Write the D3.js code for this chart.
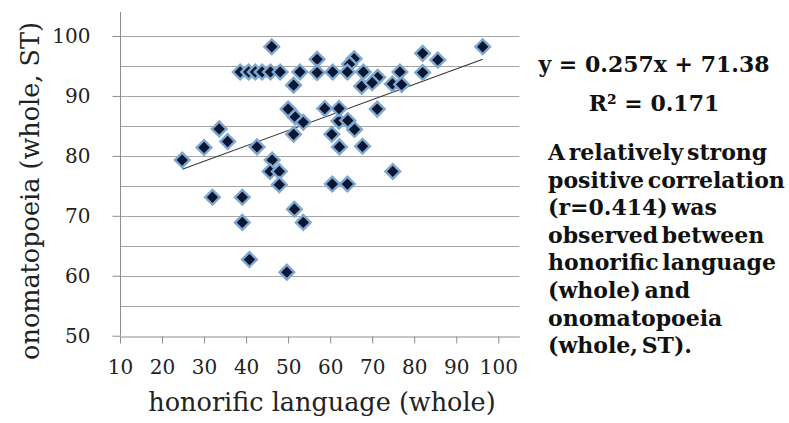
<!DOCTYPE html>
<html>
<head>
<meta charset="utf-8">
<script src="https://cdn.jsdelivr.net/npm/d3@7"></script>
<style>
  body { margin: 0; background: #fff; }
  svg { display: block; }
</style>
</head>
<body>
<div id="chart"></div>
<script>
// honorific language (whole) scores, x
var honorific = [24.8, 30.0, 33.6, 35.6, 32.0, 39.1, 39.1, 40.8, 42.6, 49.7,
  46.2, 45.7, 47.9, 47.9, 51.5, 53.6, 60.5, 64.1, 74.9, 62.2,
  67.7, 51.3, 60.4, 51.7, 53.6, 62.1, 65.8, 50.0, 58.7, 62.1,
  71.2, 64.2, 46.1, 96.3, 82.0, 85.6, 56.9, 65.7, 64.6,
  38.6, 40.6, 42.2, 43.8, 45.8, 48.1, 52.8, 56.9, 60.6, 64.1, 67.9, 76.6, 82.0,
  71.3, 67.5, 70.0, 74.8, 77.0, 51.3];
// onomatopoeia (whole, ST) scores, y
var onomatopoeia = [79.3, 81.4, 84.5, 82.4, 73.1, 73.1, 68.9, 62.7, 81.5, 60.6,
  79.3, 77.4, 77.4, 75.2, 71.1, 68.9, 75.3, 75.3, 77.4, 81.5,
  81.6, 83.6, 83.6, 86.5, 85.6, 85.8, 84.4, 87.8, 87.9, 87.9,
  87.8, 85.9, 98.2, 98.2, 97.1, 96.0, 96.1, 96.2, 95.3,
  94.0, 94.0, 94.0, 94.0, 94.0, 94.0, 94.0, 93.9, 94.0, 94.0, 94.0, 94.0, 93.9,
  93.1, 91.6, 92.2, 92.0, 91.9, 91.8];

var xTicks = [10, 20, 30, 40, 50, 60, 70, 80, 90, 100];
var yTicks = [50, 60, 70, 80, 90, 100];
var yGrid = [55, 60, 65, 70, 75, 80, 85, 90, 95, 100];

var slope = 0.257, intercept = 71.38;
var eqLines = ["y = 0.257x + 71.38", "R\u00b2 = 0.171"];
var noteLines = ["A relatively strong", "positive correlation", "(r=0.414) was",
  "observed between", "honorific language", "(whole) and", "onomatopoeia", "(whole, ST)."];

var w = 789, h = 423;
var serif = "'DejaVu Serif', 'Liberation Serif', 'Noto Serif', serif";

var svg = d3.select("#chart").append("svg")
  .attr("width", w)
  .attr("height", h);

var xscale = d3.scaleLinear().domain([10, 105]).range([120, 519.3]);
var yscale = d3.scaleLinear().domain([50, 104]).range([335.7, 12]);

// horizontal gridlines
svg.append("g").selectAll("line")
  .data(yGrid)
  .enter().append("line")
  .attr("x1", xscale(10)).attr("x2", xscale(105))
  .attr("y1", function(d) { return Math.round(yscale(d)) + 0.5; })
  .attr("y2", function(d) { return Math.round(yscale(d)) + 0.5; })
  .attr("stroke", "#a6a6a6")
  .attr("stroke-width", 1);

// y axis
var yaxis = svg.append("g")
  .attr("transform", "translate(120.5,0)")
  .call(d3.axisLeft(yscale).tickValues(yTicks).tickSize(8).tickSizeOuter(0).tickPadding(22));

// x axis
var xaxis = svg.append("g")
  .attr("transform", "translate(0," + (Math.round(yscale(50)) + 0.5) + ")")
  .call(d3.axisBottom(xscale).tickValues(xTicks).tickSize(7).tickSizeOuter(0).tickPadding(10));

[yaxis, xaxis].forEach(function(a) {
  a.select(".domain").attr("stroke", "#8c8c8c");
  a.selectAll(".tick line").attr("stroke", "#8c8c8c");
  a.selectAll(".tick text")
    .style("font-family", serif)
    .style("font-size", "20px")
    .attr("fill", "#222");
});
// y domain runs up to the top of the plot
yaxis.select(".domain").attr("d", "M0," + yscale(104) + "V" + yscale(50));
xaxis.selectAll(".tick text").attr("dy", "1em");

// axis titles
svg.append("text")
  .attr("transform", "rotate(-90)")
  .attr("x", -191)
  .attr("y", 39)
  .style("font-family", serif)
  .style("font-size", "25.5px")
  .style("text-anchor", "middle")
  .attr("fill", "#222")
  .text("onomatopoeia (whole, ST)");

svg.append("text")
  .attr("x", 322)
  .attr("y", 411)
  .style("font-family", serif)
  .style("font-size", "25.5px")
  .style("text-anchor", "middle")
  .attr("fill", "#222")
  .text("honorific language (whole)");

// linear trend line across the data range
var xmin = d3.min(honorific), xmax = d3.max(honorific);
svg.append("line")
  .attr("x1", xscale(xmin)).attr("y1", yscale(slope * xmin + intercept))
  .attr("x2", xscale(xmax)).attr("y2", yscale(slope * xmax + intercept))
  .attr("stroke", "#333")
  .attr("stroke-width", 1.1);

// diamond markers
var diamond = d3.symbol().type(d3.symbolSquare).size(108);
svg.append("g").selectAll("path")
  .data(honorific)
  .enter().append("path")
  .attr("d", diamond)
  .attr("transform", function(d, i) {
    return "translate(" + xscale(d) + "," + yscale(onomatopoeia[i]) + ") rotate(45)";
  })
  .attr("fill", "#0b1730")
  .attr("stroke", "#7fa7d0")
  .attr("stroke-width", 2.4);

// regression text
svg.append("g").selectAll("text")
  .data(eqLines)
  .enter().append("text")
  .attr("x", 654)
  .attr("y", function(d, i) { return 72 + i * 39; })
  .style("font-family", serif)
  .style("font-size", "22px")
  .style("font-weight", "bold")
  .style("text-anchor", "middle")
  .attr("fill", "#111")
  .text(function(d) { return d; });

svg.append("g").selectAll("text")
  .data(noteLines)
  .enter().append("text")
  .attr("x", 548)
  .attr("y", function(d, i) { return 160 + i * 27.6; })
  .style("font-family", serif)
  .style("font-size", "22px")
  .style("font-weight", "bold")
  .style("word-spacing", "-4px")
  .attr("fill", "#111")
  .text(function(d) { return d; });
</script>
</body>
</html>
